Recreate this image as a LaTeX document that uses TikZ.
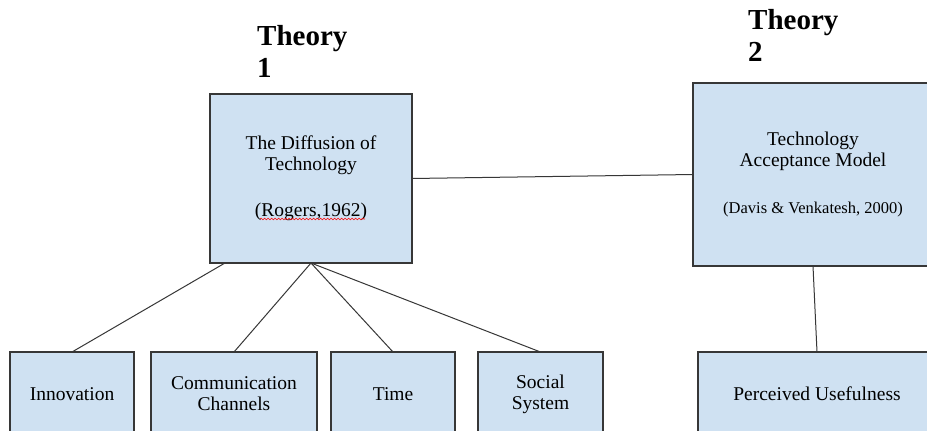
\documentclass[tikz,border=0pt]{standalone}
\usepackage{fontspec}
\setmainfont{Liberation Serif}
\usepackage{xcolor}
\usepackage{tikz}
\usetikzlibrary{positioning, decorations.pathmorphing}
\definecolor{boxfill}{RGB}{207,225,242}
\definecolor{boxline}{RGB}{55,55,55}
\tikzset{
    box/.style={rectangle, draw=boxline, line width=1.2pt, fill=boxfill, inner sep=0pt, outer sep=0pt, align=center, font=\fontsize{19.5}{21}\selectfont},
    link/.style={draw=boxline, line width=1pt},
    title/.style={anchor=north west, inner sep=0pt, align=left, font=\bfseries\fontsize{29}{32}\selectfont}
}

\begin{document}
\begin{tikzpicture}[x=1pt, y=-1pt]
    \clip (0,0) rectangle (927,431);
    \fill [white] (0,0) rectangle (927,431);
    \node (t1) [title] at (257,25) {Theory\\1};
    \node (t2) [title] at (748,9) {Theory\\2};
    \node (diff) [box, minimum width=202pt, minimum height=169pt] at (311,178.5) {The Diffusion of\\Technology\\[25pt](Rogers,1962)};
    \node (tam) [box, minimum width=240pt, minimum height=183pt] at (813,174.5) {Technology\\Acceptance Model\\[26pt]{\fontsize{16.5}{18}\selectfont (Davis \& Venkatesh, 2000)}};
    \node (inno) [box, minimum width=124pt, minimum height=84pt] at (72,394) {Innovation};
    \node (comm) [box, minimum width=166pt, minimum height=84pt, right=17pt of inno] {Communication\\Channels};
    \node (time) [box, minimum width=124pt, minimum height=84pt, right=14pt of comm] {Time};
    \node (soc) [box, minimum width=125pt, minimum height=84pt, right=23pt of time] {Social\\System};
    \node (pu) [box, minimum width=238pt, minimum height=84pt, right=95pt of soc] {Perceived Usefulness};
    
    \coordinate (diffl) at ([xshift=15pt]diff.south west);
    \draw [link] (diffl) -- (inno.north);
    \draw [link] (diff.south) -- (comm.north);
    \draw [link] (diff.south) -- (time.north);
    \draw [link] (diff.south) -- (soc.north);
    \draw [link] (diff.east) -- (tam.west);
    \draw [link] (tam.south) -- (pu.north);
    % spell-check underline
    \draw [red, line width=0.6pt, decorate, decoration={snake, amplitude=0.8pt, segment length=3.5pt}] (260,219) -- (365,219);
\end{tikzpicture}
\end{document}
